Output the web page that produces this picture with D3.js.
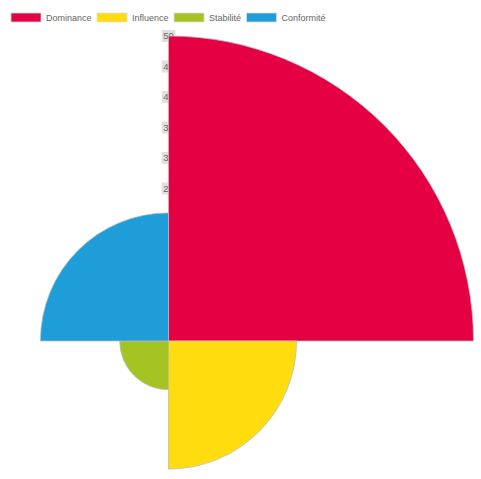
<!DOCTYPE html>
<html>
<head>
<meta charset="utf-8">
<script src="https://cdn.jsdelivr.net/npm/d3@7"></script>
<style>
  body { margin: 0; background: #fff; }
  svg { display: block; font-family: "Liberation Sans", Arial, Helvetica, sans-serif; }
</style>
</head>
<body>
<script>
// data
const labels = ["Dominance", "Influence", "Stabilité", "Conformité"];
const values = [50, 21, 8, 21];
const colors = ["#e50043", "#ffdc0e", "#a3c423", "#1e9dd8"];
const tickValues = [5, 10, 15, 20, 25, 30, 35, 40, 45, 50];

const width = 481;
const height = 479;
const cx = 168.5;
const cy = 341;

let svg = d3.select("body")
    .append("svg")
    .attr("width", width)
    .attr("height", height);

//scale
const rScale = d3.scaleLinear().domain([0, 50]).range([0, 305]);

//tick labels (drawn under the segments)
let ticks = svg.append("g").attr("class", "ticks");
tickValues.forEach(v => {
    let g = ticks.append("g").attr("transform", `translate(${cx}, ${cy - rScale(v)})`);
    let rect = g.append("rect").attr("fill", "#e0e0e0");
    let t = g.append("text")
        .attr("text-anchor", "middle")
        .attr("dy", "0.35em")
        .attr("font-size", 9.5)
        .attr("fill", "#666")
        .text(v);
    const w = t.node().getComputedTextLength();
    rect.attr("x", -w / 2 - 1.5).attr("y", -6).attr("width", w + 3).attr("height", 12);
});

//segments
const step = 2 * Math.PI / values.length;
const arc = d3.arc()
    .innerRadius(0)
    .outerRadius(d => rScale(d.value))
    .startAngle(d => d.i * step)
    .endAngle(d => (d.i + 1) * step);

svg.append("g")
    .attr("transform", `translate(${cx}, ${cy})`)
    .selectAll("path")
    .data(values.map((value, i) => ({ value, i })))
    .enter()
    .append("path")
    .attr("d", arc)
    .attr("fill", d => colors[d.i])
    .attr("stroke", "#bbb")
    .attr("stroke-width", 0.75);

//legend
let legend = svg.append("g").attr("class", "legend");
let x = 11;
labels.forEach((name, i) => {
    legend.append("rect")
        .attr("x", x).attr("y", 13)
        .attr("width", 30).attr("height", 9)
        .attr("fill", colors[i])
        .attr("stroke", "#ddd")
        .attr("stroke-width", 0.75);
    let t = legend.append("text")
        .attr("x", x + 35)
        .attr("y", 21)
        .attr("font-size", 9)
        .attr("fill", "#666")
        .text(name);
    x += 35 + t.node().getComputedTextLength() + 5.5;
});
</script>
</body>
</html>
